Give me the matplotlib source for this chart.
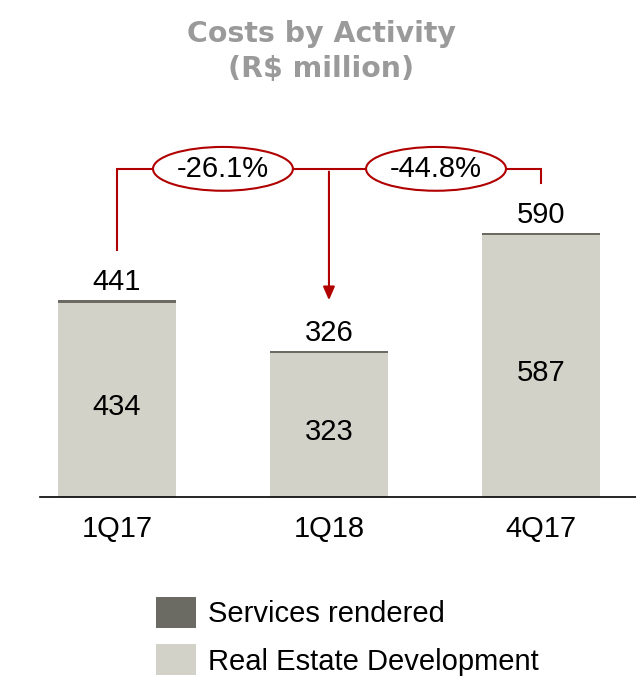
import numpy as np
import matplotlib.pyplot as plt
from matplotlib.patches import Ellipse

# costs by activity (R$ million)
periods = ["1Q17", "1Q18", "4Q17"]
real_estate = [434, 323, 587]
services = [7, 3, 3]
totals = [441, 326, 590]
changes = ["-26.1%", "-44.8%"]

c_serv = "#6b6b63"
c_real = "#d2d2c8"
c_red = "#b00000"

plt.rcParams['font.family'] = ['Liberation Sans', 'DejaVu Sans']

fig = plt.figure(figsize=(6.36, 6.77), dpi=100)
W, H = 636, 677
# axes in pixel terms: left 40, right 636, baseline 497, top 100
ax = fig.add_axes([40 / W, (H - 497) / H, 596 / W, 397 / H])

x = np.arange(len(periods))
bw = 0.556
b1 = ax.bar(x, real_estate, bw, color=c_real, label="Real Estate Development")
b2 = ax.bar(x, services, bw, bottom=real_estate, color=c_serv, label="Services rendered")

ax.set_xlim(-0.363, -0.363 + 596 / 212)
ax.set_ylim(0, 888)

fs = 21
for i in range(len(x)):
    ax.text(x[i], totals[i] + 9, str(totals[i]), ha="center", va="bottom", fontsize=fs)
    ax.text(x[i], real_estate[i] / 2 - 16, str(real_estate[i]), ha="center", va="center", fontsize=fs)

# variation brackets
top = 734
ax.plot([0, 0, 2, 2], [552, top, top, 702], color=c_red, lw=1.5, solid_joinstyle="miter")
ax.annotate("", xy=(1, 434), xytext=(1, top),
            arrowprops=dict(arrowstyle="-|>,head_length=0.8,head_width=0.35", color=c_red, lw=1.5))
for cx, txt in zip([0.5, 1.505], changes):
    ax.add_patch(Ellipse((cx, top), 0.66, 98, facecolor="white", edgecolor=c_red, lw=1.5, zorder=3))
    ax.text(cx, top, txt, ha="center", va="center", fontsize=fs, zorder=4)

for s in ["top", "right", "left"]:
    ax.spines[s].set_visible(False)
ax.spines["bottom"].set_linewidth(1.2)
ax.set_yticks([])
ax.set_xticks(x)
ax.set_xticklabels(periods, fontsize=fs)
ax.tick_params(axis="x", length=0, pad=13)

fig.text(0.505, 1 - 20 / H, "Costs by Activity\n(R$ million)", ha="center", va="top",
         fontsize=20.4, fontweight="bold", color="#9a9a9a", linespacing=1.3,
         family="DejaVu Sans")

fig.legend(handles=[b2, b1], loc="upper left", bbox_to_anchor=(156 / W, 1 - 597 / H),
           frameon=False, fontsize=fs, handlelength=1.38, handleheight=1.25,
           handletextpad=0.4, labelspacing=0.55, borderpad=0, borderaxespad=0)

plt.savefig("out.png", dpi=100)
